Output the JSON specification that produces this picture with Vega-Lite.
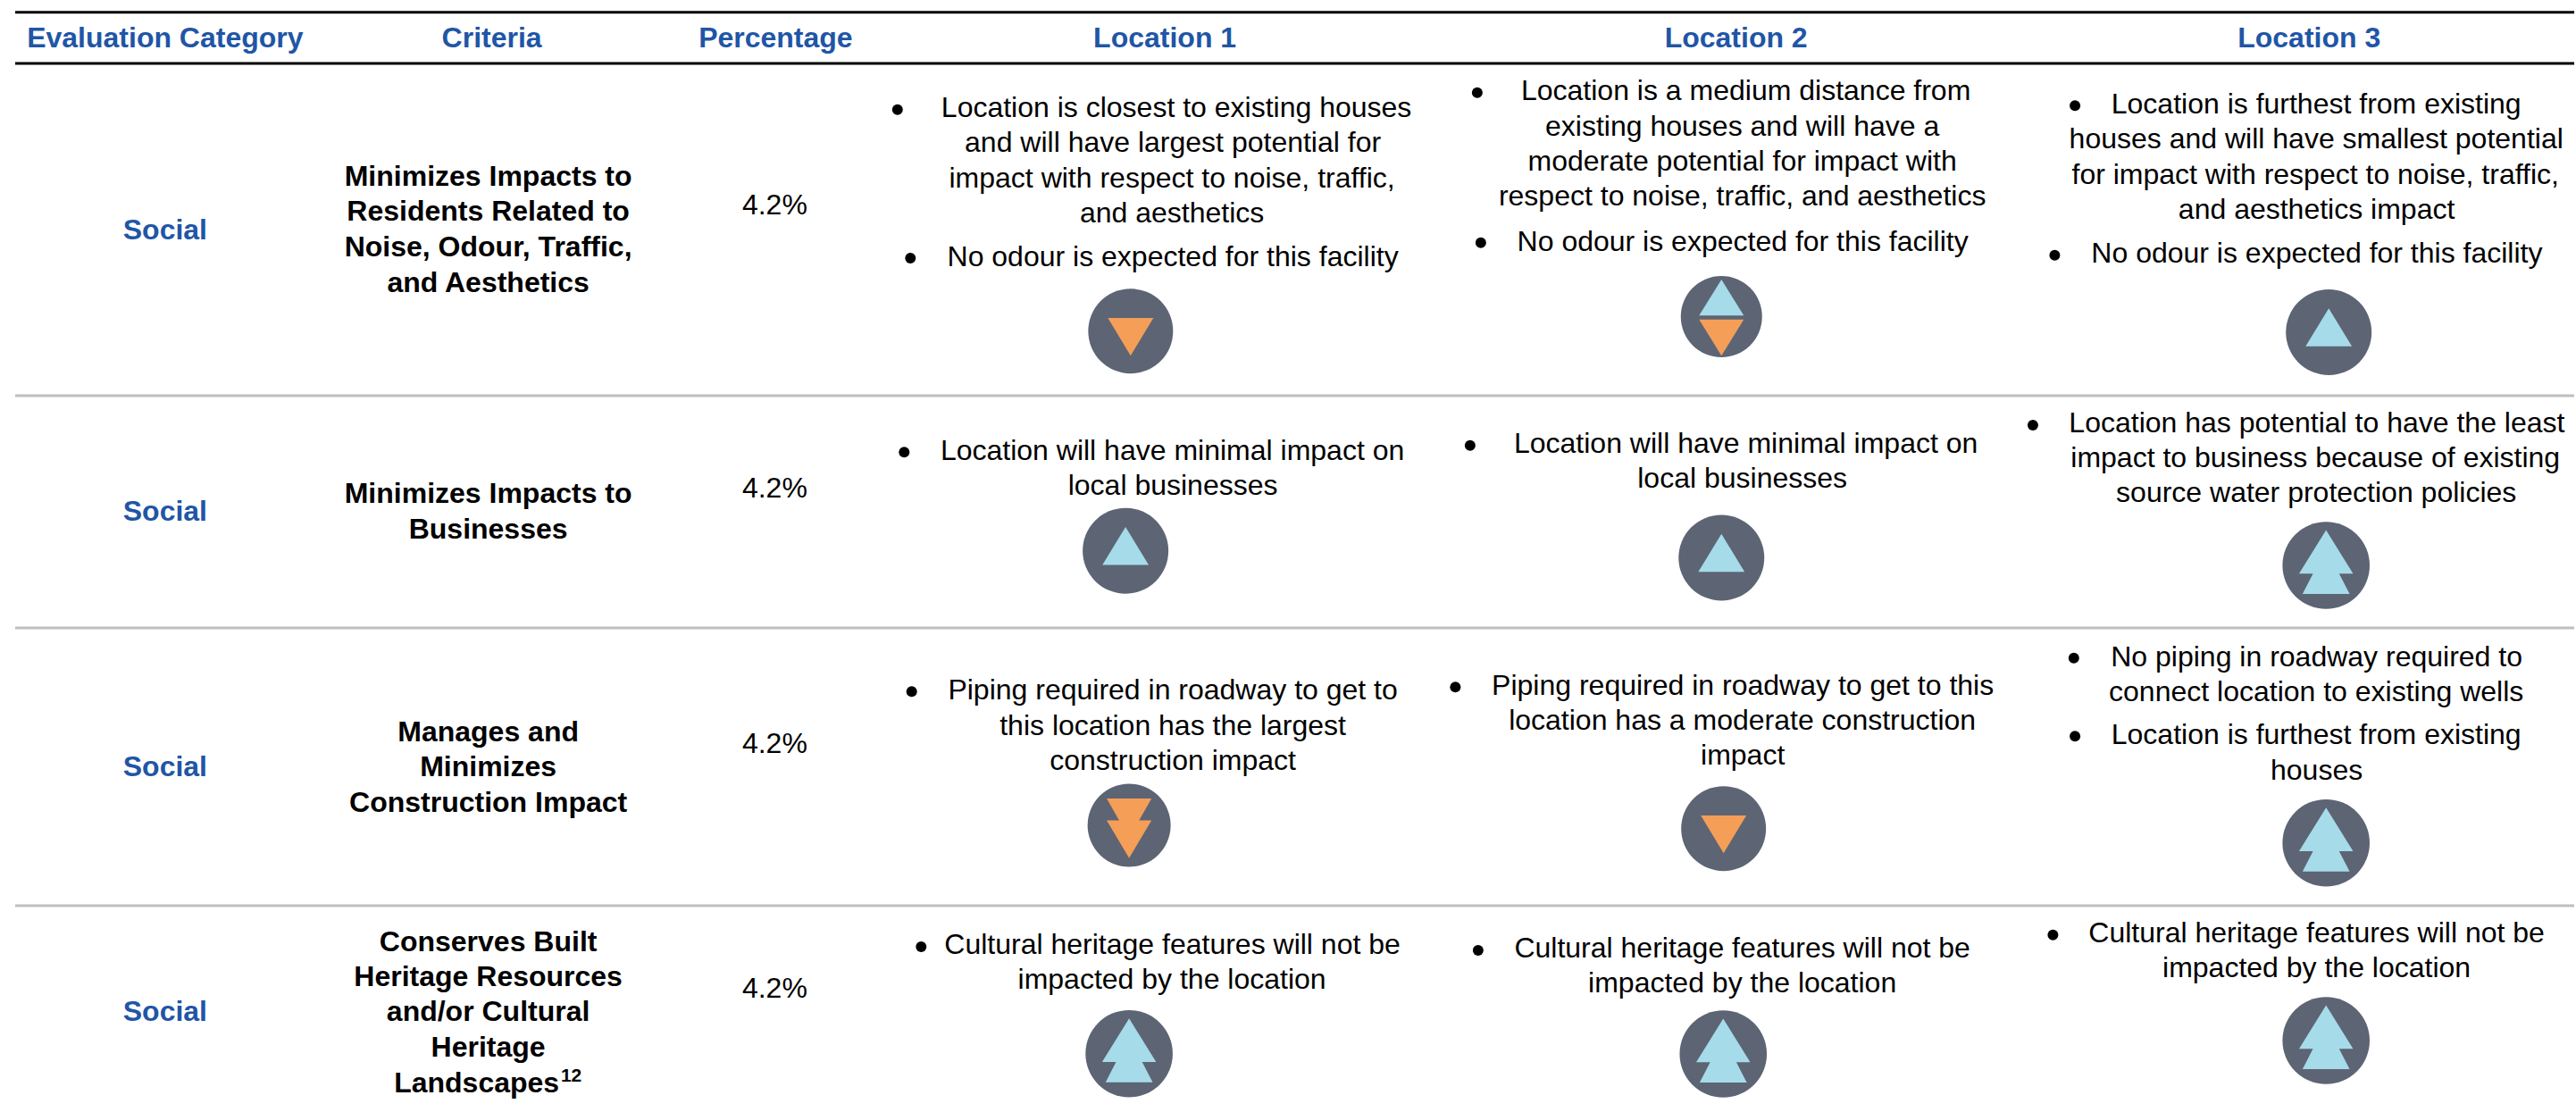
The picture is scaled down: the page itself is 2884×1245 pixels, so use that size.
{"$schema":"https://vega.github.io/schema/vega-lite/v6.json","width":2884,"height":1245,"autosize":{"type":"fit","contains":"padding"},"padding":0,"background":"white","view":{"stroke":null},
"datasets":{
"rules":[{"kind":"header","down":6.85,"from":8.5,"to":1442},{"kind":"header","down":35.5,"from":8.5,"to":1442},{"kind":"row","down":221.5,"from":8.5,"to":1442},{"kind":"row","down":351.5,"from":8.5,"to":1442},{"kind":"row","down":507,"from":8.5,"to":1442}],
"headings":[
{"across":92.5,"down":26.35,"text":"Evaluation Category"},{"across":275.5,"down":26.35,"text":"Criteria"},{"across":434.5,"down":26.35,"text":"Percentage"},{"across":652.5,"down":26.35,"text":"Location 1"},{"across":972.5,"down":26.35,"text":"Location 2"},{"across":1293.5,"down":26.35,"text":"Location 3"},
{"across":92.5,"down":134,"text":"Social"},{"across":92.5,"down":291.65,"text":"Social"},{"across":92.5,"down":434.65,"text":"Social"},{"across":92.5,"down":571.65,"text":"Social"}],
"criteria":[
{"across":273.5,"down":104,"text":"Minimizes Impacts to"},{"across":273.5,"down":123.5,"text":"Residents Related to"},{"across":273.5,"down":143.5,"text":"Noise, Odour, Traffic,"},{"across":273.5,"down":163.5,"text":"and Aesthetics"},
{"across":273.5,"down":281.65,"text":"Minimizes Impacts to"},{"across":273.5,"down":301.65,"text":"Businesses"},
{"across":273.5,"down":415,"text":"Manages and"},{"across":273.5,"down":434.65,"text":"Minimizes"},{"across":273.5,"down":454.25,"text":"Construction Impact"},
{"across":273.5,"down":532.5,"text":"Conserves Built"},{"across":273.5,"down":552,"text":"Heritage Resources"},{"across":273.5,"down":571.65,"text":"and/or Cultural"},{"across":273.5,"down":591.65,"text":"Heritage"},{"across":267,"down":611.35,"text":"Landscapes"}],
"notes":[{"across":320,"down":605.35,"text":"12"}],
"body":[
{"across":434,"down":120,"text":"4.2%"},{"across":434,"down":278.65,"text":"4.2%"},{"across":434,"down":421.35,"text":"4.2%"},{"across":434,"down":558.65,"text":"4.2%"},
{"across":659,"down":65.5,"text":"Location is closest to existing houses"},{"across":657,"down":85,"text":"and will have largest potential for"},{"across":656.5,"down":105,"text":"impact with respect to noise, traffic,"},{"across":656.5,"down":124.5,"text":"and aesthetics"},{"across":657,"down":149,"text":"No odour is expected for this facility"},
{"across":978,"down":56,"text":"Location is a medium distance from"},{"across":976,"down":76,"text":"existing houses and will have a"},{"across":976,"down":95.5,"text":"moderate potential for impact with"},{"across":976,"down":115,"text":"respect to noise, traffic, and aesthetics"},{"across":976.25,"down":140.35,"text":"No odour is expected for this facility"},
{"across":1297.5,"down":63.35,"text":"Location is furthest from existing"},{"across":1297.5,"down":83,"text":"houses and will have smallest potential"},{"across":1297,"down":103,"text":"for impact with respect to noise, traffic,"},{"across":1297.7,"down":122.5,"text":"and aesthetics impact"},{"across":1297.85,"down":147,"text":"No odour is expected for this facility"},
{"across":656.75,"down":257.5,"text":"Location will have minimal impact on"},{"across":657,"down":277,"text":"local businesses"},
{"across":978,"down":253.65,"text":"Location will have minimal impact on"},{"across":976,"down":273,"text":"local businesses"},
{"across":1297.85,"down":242.15,"text":"Location has potential to have the least"},{"across":1297,"down":261.65,"text":"impact to business because of existing"},{"across":1297.5,"down":281.15,"text":"source water protection policies"},
{"across":657,"down":391.65,"text":"Piping required in roadway to get to"},{"across":657,"down":411.35,"text":"this location has the largest"},{"across":657,"down":431,"text":"construction impact"},
{"across":976.25,"down":389.15,"text":"Piping required in roadway to get to this"},{"across":976,"down":408.65,"text":"location has a moderate construction"},{"across":976.25,"down":428,"text":"impact"},
{"across":1297.7,"down":372.85,"text":"No piping in roadway required to"},{"across":1297.5,"down":392.35,"text":"connect location to existing wells"},{"across":1297.5,"down":416.65,"text":"Location is furthest from existing"},{"across":1297.7,"down":436.35,"text":"houses"},
{"across":656.75,"down":534.15,"text":"Cultural heritage features will not be"},{"across":656.5,"down":553.65,"text":"impacted by the location"},
{"across":976,"down":536.15,"text":"Cultural heritage features will not be"},{"across":976,"down":555.5,"text":"impacted by the location"},
{"across":1297.7,"down":527.5,"text":"Cultural heritage features will not be"},{"across":1297.7,"down":547,"text":"impacted by the location"}],
"bullets":[
{"across":502.75,"down":61.35},{"across":510,"down":144.5},{"across":827.5,"down":51.85},{"across":829.5,"down":135.85},{"across":1162.35,"down":59.15},{"across":1151,"down":142.85},
{"across":506.5,"down":253.15},{"across":823.5,"down":249.35},{"across":1138.75,"down":238},
{"across":510.7,"down":387.15},{"across":815.25,"down":384.65},{"across":1161.7,"down":368.35},{"across":1162.35,"down":412.15},
{"across":516,"down":530},{"across":828,"down":532},{"across":1150,"down":523.35}],
"icons":[
{"location":"Location 1","across":633.35,"down":185.35,"rating":"-"},{"location":"Location 2","across":964.3,"down":177.25,"rating":"+/-"},{"location":"Location 3","across":1304.5,"down":186,"rating":"+"},
{"location":"Location 1","across":630.5,"down":308.35,"rating":"+"},{"location":"Location 2","across":964.3,"down":312.25,"rating":"+"},{"location":"Location 3","across":1303,"down":316.5,"rating":"++"},
{"location":"Location 1","across":632.5,"down":462,"rating":"--"},{"location":"Location 2","across":965.5,"down":463.85,"rating":"-"},{"location":"Location 3","across":1303,"down":471.85,"rating":"++"},
{"location":"Location 1","across":632.5,"down":589.85,"rating":"++"},{"location":"Location 2","across":965.3,"down":590,"rating":"++"},{"location":"Location 3","across":1303,"down":582.5,"rating":"++"}]
},
"encoding":{
"x":{"field":"across","type":"quantitative","axis":null,"scale":{"domain":[0,1442],"nice":false,"zero":false}},
"y":{"field":"down","type":"quantitative","axis":null,"scale":{"domain":[0,622.5],"nice":false,"zero":false,"reverse":true}}},
"layer":[
{"data":{"name":"rules"},"mark":{"type":"rule","strokeWidth":3},"encoding":{"x":{"field":"from","type":"quantitative","axis":null},"x2":{"field":"to"},"color":{"field":"kind","type":"nominal","legend":null,"scale":{"domain":["header","row"],"range":["#000000","#bfbfbf"]}}}},
{"data":{"name":"headings"},"mark":{"type":"text","font":"Liberation Sans","fontSize":32,"fontWeight":"bold","align":"center","baseline":"alphabetic","color":"#1f56a6"},"encoding":{"text":{"field":"text"}}},
{"data":{"name":"criteria"},"mark":{"type":"text","font":"Liberation Sans","fontSize":32,"fontWeight":"bold","align":"center","baseline":"alphabetic","color":"#000000"},"encoding":{"text":{"field":"text"}}},
{"data":{"name":"notes"},"mark":{"type":"text","font":"Liberation Sans","fontSize":21,"fontWeight":"bold","align":"center","baseline":"alphabetic","color":"#000000"},"encoding":{"text":{"field":"text"}}},
{"data":{"name":"body"},"mark":{"type":"text","font":"Liberation Sans","fontSize":32,"align":"center","baseline":"alphabetic","color":"#000000"},"encoding":{"text":{"field":"text"}}},
{"data":{"name":"bullets"},"mark":{"type":"point","shape":"circle","filled":true,"size":144,"color":"#000000","opacity":1}},
{"data":{"name":"icons"},"mark":{"type":"point","shape":"circle","filled":true,"color":"#5d6474","opacity":1},"encoding":{"size":{"field":"rating","type":"nominal","legend":null,"scale":{"type":"ordinal","domain":["+","-","++","--","+/-"],"range":[9216,9025,9525,8649,8281]}}}},
{"data":{"name":"icons"},"transform":[{"filter":{"field":"rating","oneOf":["+","++","+/-"]}}],"mark":{"type":"point","filled":true,"color":"#a6dbe9","opacity":1},"encoding":{"size":{"field":"rating","type":"nominal","legend":null,"scale":{"type":"ordinal","domain":["+","-","++","--","+/-"],"range":[9216,9025,9525,8649,8281]}},"shape":{"field":"rating","type":"nominal","legend":null,"scale":{"domain":["+","++","+/-"],"range":["M0,-0.555L0.54,0.33L-0.54,0.33Z","M0,-0.81L0.62,0.19L0.3,0.19L0.54,0.656L-0.54,0.656L-0.3,0.19L-0.62,0.19Z","M0,-0.91L0.55,-0.03L-0.55,-0.03Z"]}}}},
{"data":{"name":"icons"},"transform":[{"filter":{"field":"rating","oneOf":["-","--","+/-"]}}],"mark":{"type":"point","filled":true,"color":"#f49e58","opacity":1},"encoding":{"size":{"field":"rating","type":"nominal","legend":null,"scale":{"type":"ordinal","domain":["+","-","++","--","+/-"],"range":[9216,9025,9525,8649,8281]}},"shape":{"field":"rating","type":"nominal","legend":null,"scale":{"domain":["-","--","+/-"],"range":["M-0.537,-0.31L0.537,-0.31L0,0.58Z","M-0.54,-0.645L0.54,-0.645L0.24,-0.12L0.54,-0.12L0,0.79L-0.54,-0.12L-0.24,-0.12Z","M-0.55,0.07L0.55,0.07L0,0.96Z"]}}}}
],
"resolve":{"scale":{"shape":"independent","size":"independent"}}
}
